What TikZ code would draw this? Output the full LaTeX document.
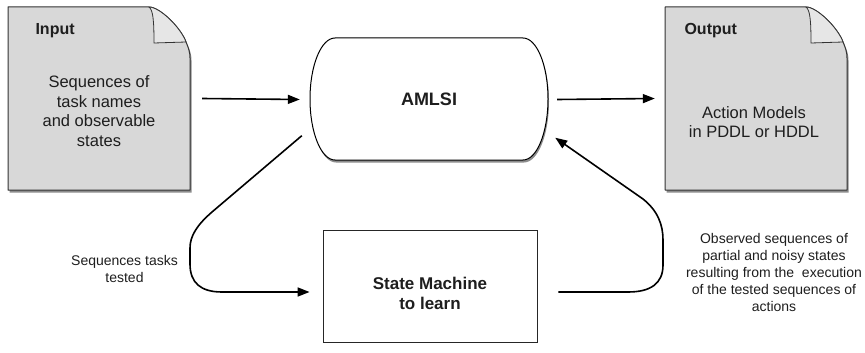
\documentclass[tikz,border=0pt]{standalone}
\usepackage{fontspec}
\setmainfont{Liberation Sans}
\usetikzlibrary{arrows.meta,calc}

\definecolor{sheet}{HTML}{D8D8D8}
\definecolor{sheetfoldc}{HTML}{E6E6E6}
\definecolor{edge}{HTML}{333333}
\definecolor{ink}{HTML}{1E1E1E}

% outline of a page with a folded top-right corner
\newcommand\pageoutline{(8,7) -- (149,7) .. controls (160,7) and (181,28) .. (186,42)
  .. controls (188.5,48) and (190,52) .. (190,58) -- (190,190) -- (8,190) -- cycle}
\newcommand\pagefold{(149,7) .. controls (160,7) and (181,28) .. (186,42)
  -- (154,43) .. controls (154,20) and (153,10) .. (149,7) -- cycle}
\newcommand\sheetpage[1]{%
  \begin{scope}[xshift=#1]
    \fill[shade] [shift={(1.5,2.5)}] \pageoutline;
    \filldraw[sheetbody] \pageoutline;
    \filldraw[sheetfold] \pagefold;
  \end{scope}}
% stadium outline of the learner block
\newcommand\stadium{(335,38) -- (523,38)
  .. controls (536.8,38) and (548,65.3) .. (548,99)
  .. controls (548,132.7) and (536.8,160) .. (523,160) -- (335,160)
  .. controls (321.2,160) and (310,132.7) .. (310,99)
  .. controls (310,65.3) and (321.2,38) .. (335,38) -- cycle}

\begin{document}
\begin{tikzpicture}[x=1pt,y=-1pt,
  flow/.style={line width=1.6pt, draw=black, line join=round, -{Triangle[length=12pt,width=9pt]}},
  sheetbody/.style={fill=sheet, draw=edge, line width=1pt, line join=round},
  sheetfold/.style={fill=sheetfoldc, draw=edge, line width=0.8pt, line join=round},
  shade/.style={fill=black, opacity=0.45},
  title/.style={font=\fontsize{16}{19}\selectfont\bfseries, text=ink, anchor=base west},
  body/.style={font=\fontsize{16.5}{19.5}\selectfont, text=ink, align=center},
  note/.style={font=\fontsize{14}{17}\selectfont, text=ink, align=center},
  area/.style={inner sep=0pt}
]
\useasboundingbox (0,0) rectangle (865,353);

% input and output pages
\sheetpage{0pt}
\sheetpage{657pt}
\node[area, minimum width=182pt, minimum height=183pt] (in) at (99,98.5) {};
\node[area, minimum width=182pt, minimum height=183pt] (out) at (756,98.5) {};
\node[title] (intitle) at (32,35) {Input};
\node[title] (outtitle) at (681,35) {Output};
\node[body] (intext) at (99,111) {Sequences of\\task names\\and observable\\states};
\node[body] (outtext) at (754,122) {Action Models\\in PDDL or HDDL};

% learner block
\fill[shade] [shift={(1,2.5)}] \stadium;
\filldraw[fill=white, draw=black, line width=1pt] \stadium;
\node[area, minimum width=238pt, minimum height=122pt,
      font=\fontsize{18}{21}\selectfont\bfseries, text=ink] (amlsi) at (429,99.5) {AMLSI};

% system under study
\node[draw=black!85, line width=0.9pt, minimum width=214pt, minimum height=112pt] (sm) at (430,286) {};
\node[font=\fontsize{17}{20}\selectfont\bfseries, text=ink, align=center] (smtext) at (430,293) {State Machine\\to learn};

% data flow
\draw[flow] ([xshift=12pt]in.east) -- ([xshift=-10pt]amlsi.west);
\draw[flow] ([xshift=9pt]amlsi.east) -- ([xshift=-10pt]out.west);
\draw[flow] ($(amlsi.south west)+(-8,-25)$) -- (212,212)
  .. controls (197,225) and (190,236) .. (190,248) -- (190,264)
  .. controls (190,283) and (201,292) .. (222,292) -- ($(sm.west)+(-13,6)$);
\draw[flow] ($(sm.east)+(21,6)$) -- (628,292)
  .. controls (650,292) and (663,284) .. (663,265) -- (663,240)
  .. controls (663,225) and (658,211) .. (643,199) -- ($(amlsi.south east)+(7,-23)$);

% connector labels
\node[note] (testedlbl) at (124.5,268.5) {Sequences tasks\\tested};
\node[note] (obslbl) at (774,272) {Observed sequences of\\partial and noisy states\\resulting from the\ \ execution\\of the tested sequences of\\actions};
\end{tikzpicture}
\end{document}
